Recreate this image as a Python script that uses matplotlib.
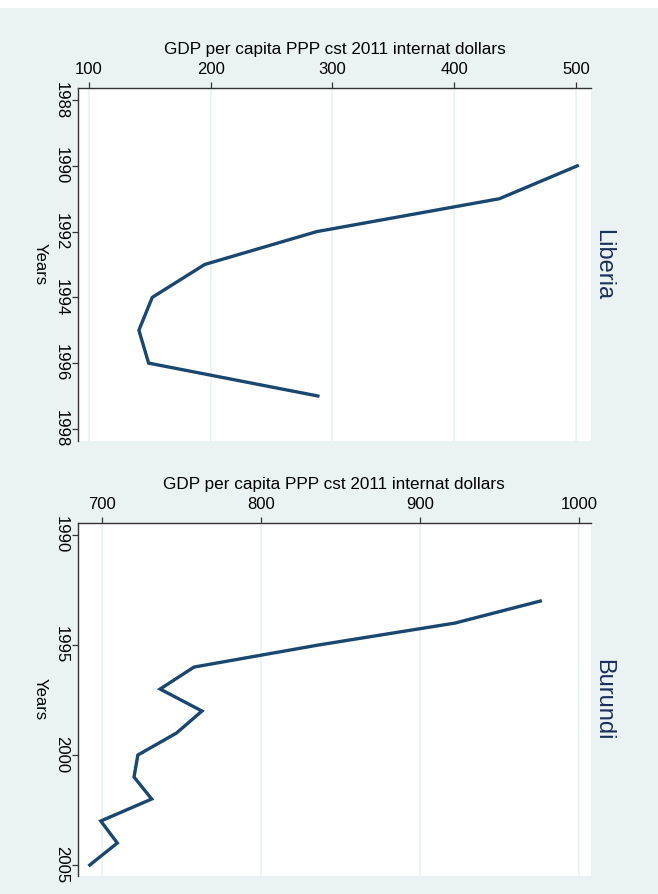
import matplotlib
matplotlib.use("Agg")
import matplotlib.pyplot as plt
import matplotlib.patches as patches

plt.rcParams['font.family'] = ['Liberation Sans', 'DejaVu Sans']

# GDP per capita series, one per country
liberia_years = [1990, 1991, 1992, 1993, 1994, 1995, 1996, 1997]
liberia_gdp = [501, 437, 287, 195, 152, 141, 149, 288]

burundi_years = [1993, 1994, 1995, 1996, 1997, 1998, 1999, 2000, 2001, 2002, 2003, 2004, 2005]
burundi_gdp = [975.6, 922, 836, 758, 736.7, 763, 747, 722.7, 720.3, 731.4, 699.4, 709.8, 692.5]

liberia_xticks = [100, 200, 300, 400, 500]
liberia_yticks = [1988, 1990, 1992, 1994, 1996, 1998]
burundi_xticks = [700, 800, 900, 1000]
burundi_yticks = [1990, 1995, 2000, 2005]

xlabel = "GDP per capita PPP cst 2011 internat dollars"
ylabel = "Years"

bg = "#eaf2f3"
line_col = "#1a476f"
axis_col = "#333333"

W, H = 658, 894
fig = plt.figure(figsize=(W / 100, H / 100), dpi=100, facecolor=bg)
fig.patches.append(patches.Rectangle((0, 1 - 8 / H), 1, 8 / H, transform=fig.transFigure,
                                     facecolor="white", edgecolor="none", zorder=-1))


def panel(box, years, gdp, xticks, yticks, xlim, ylim, name):
    l, t, r, b = box
    ax = fig.add_axes([l / W, 1 - b / H, (r - l) / W, (b - t) / H])
    ax.set_facecolor("white")
    ax.plot(gdp, years, color=line_col, lw=2.4, solid_joinstyle="miter", zorder=3)
    ax.set_xlim(*xlim)
    ax.set_ylim(*ylim)
    ax.set_xticks(xticks)
    ax.set_yticks(yticks)
    ax.xaxis.tick_top()
    ax.xaxis.set_label_position("top")
    for s in ["bottom", "right"]:
        ax.spines[s].set_visible(False)
    for s in ["top", "left"]:
        ax.spines[s].set_color(axis_col)
        ax.spines[s].set_linewidth(1.0)
    ax.grid(axis="x", color=bg, lw=1.2, zorder=0)
    ax.tick_params(axis="both", length=4.5, width=0.9, color=axis_col, labelsize=12)
    ax.tick_params(axis="x", pad=3.5)
    ax.tick_params(axis="y", pad=2, labelrotation=-90)
    for lab in ax.get_yticklabels():
        lab.set_va("center")
    ax.set_xlabel(xlabel, fontsize=12.3, labelpad=6)
    ax.set_ylabel(ylabel, fontsize=12, rotation=-90, va="center", labelpad=10)
    fig.text(603 / W, 1 - (t + b) / 2 / H, name, rotation=-90, ha="center", va="center",
             fontsize=17, color="#1c2f5b")
    return ax


panel((78, 88.3, 591, 440.7), liberia_years, liberia_gdp, liberia_xticks, liberia_yticks,
      (91, 512.3), (1998.36, 1987.64), "Liberia")
panel((77.7, 523, 591, 876), burundi_years, burundi_gdp, burundi_xticks, burundi_yticks,
      (684.9, 1007.5), (2005.5, 1989.45), "Burundi")

fig.savefig("out.png", dpi=100, facecolor=bg)
